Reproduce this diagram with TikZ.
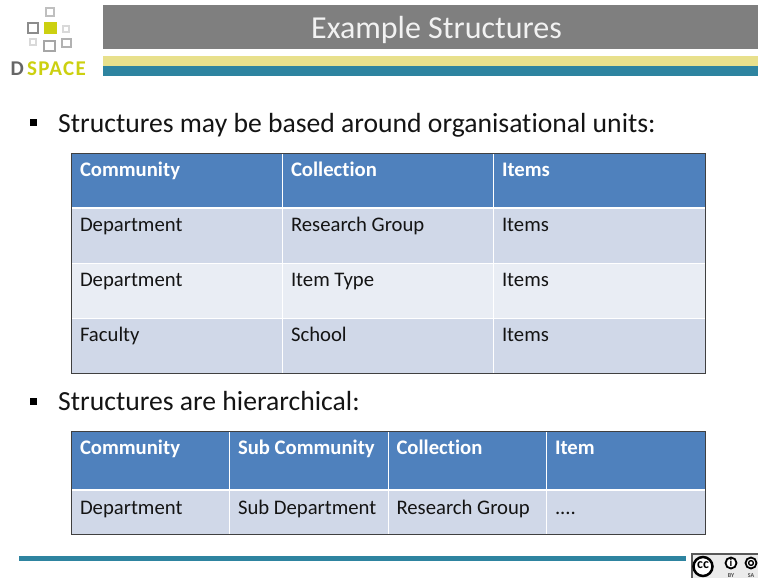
\documentclass[tikz,border=0pt]{standalone}
\usepackage{fontspec}
\setmainfont[Ligatures=NoCommon]{Carlito}
\newfontfamily\logofont[LetterSpace=6]{Carlito}
\definecolor{hdr}{HTML}{4F81BD}
\definecolor{rowa}{HTML}{D0D8E8}
\definecolor{rowb}{HTML}{E9EDF4}
\definecolor{teal}{HTML}{2E84A0}
\definecolor{sand}{HTML}{E8E08C}
\definecolor{lime}{HTML}{CCD010}
\definecolor{titlegrey}{HTML}{7F7F7F}
\tikzset{x=1pt,y=-1pt,
 cell/.style={anchor=base west,inner sep=0pt,outer sep=0pt,font=\fontsize{20.7}{22}\selectfont,text=black!92},
 headcell/.style={cell,font=\fontsize{20.7}{22}\selectfont\bfseries,text=white},
 bullettext/.style={anchor=base west,inner sep=0pt,font=\fontsize{27.65}{30}\selectfont,text=black!92},
 sep/.style={draw=white,line width=1pt},
 sephead/.style={draw=white,line width=2pt},
 frameline/.style={draw=black!75,line width=1pt},
 logobox/.style={draw=#1,line width=1.7pt,fill=white},
 logobox/.default=black!40}
\begin{document}
\begin{tikzpicture}
\useasboundingbox (0,0) rectangle (758,578);
\clip (0,0) rectangle (758,578);
% header
\fill[titlegrey] (103,5) rectangle (758,49);
\fill[sand] (103,56) rectangle (758,66);
\fill[teal] (103,66) rectangle (758,76);
\node[anchor=base,inner sep=0pt,text=white!95!black,font=\fontsize{32}{34}\selectfont] (title) at (436.5,38.8) {Example Structures};
% logo
\draw[logobox=black!25] (45.8,7.8) rectangle (54.2,15.8);
\draw[logobox=black!45] (27.8,22.8) rectangle (38.2,33.2);
\fill[lime] (43.5,22) rectangle (56.5,34);
\draw[logobox=black!15] (62.8,25.8) rectangle (69.2,32.2);
\draw[logobox=black!15] (29.8,38.8) rectangle (36.2,45.2);
\draw[logobox=black!35] (44,40.8) rectangle (55.2,51.2);
\draw[logobox=black!30] (61.8,38.8) rectangle (71.2,47.2);
\node[anchor=base west,inner sep=0pt,text=black!60,font=\fontsize{21}{22}\bfseries\selectfont] (logod) at (10.5,76) {D};
\node[anchor=base west,inner sep=0pt,text=lime,font=\logofont\fontsize{21}{22}\bfseries\selectfont] (logos) at (27,76) {SPACE};
% bullets
\fill[black] (29.5,119) rectangle (36.5,126);
\fill[black] (29.5,398) rectangle (36.5,405);
\node[bullettext] (b1) at (58,132) {Structures may be based around organisational units:};
\node[bullettext] (b2) at (58,410.3) {Structures are hierarchical:};
% table 1
\fill[hdr] (71,153) rectangle (705,207);
\fill[rowa] (71,207) rectangle (705,263);
\fill[rowb] (71,263) rectangle (705,318);
\fill[rowa] (71,318) rectangle (705,373);
\draw[sep] (282,153) -- (282,373);
\draw[sep] (493,153) -- (493,373);
\draw[sephead] (71,207.5) -- (705,207.5);
\draw[sep] (71,263) -- (705,263);
\draw[sep] (71,318) -- (705,318);
\draw[frameline] (71,153.5) rectangle (705,373);
\node[headcell] (a1) at (80,176.5) {Community};
\node[headcell] (a2) at (291,176.5) {Collection};
\node[headcell] (a3) at (502,176.5) {Items};
\node[cell] (b11) at (80,231.5) {Department};
\node[cell] (b12) at (291,231.5) {Research Group};
\node[cell] (b13) at (502,231.5) {Items};
\node[cell] (c11) at (80,286.5) {Department};
\node[cell] (c12) at (291,286.5) {Item Type};
\node[cell] (c13) at (502,286.5) {Items};
\node[cell] (d11) at (80,341.5) {Faculty};
\node[cell] (d12) at (291,341.5) {School};
\node[cell] (d13) at (502,341.5) {Items};
% table 2
\fill[hdr] (71,431) rectangle (705,489);
\fill[rowa] (71,489) rectangle (705,534);
\draw[sep] (229.5,431) -- (229.5,534);
\draw[sep] (388,431) -- (388,534);
\draw[sep] (546.5,431) -- (546.5,534);
\draw[sephead] (71,489.5) -- (705,489.5);
\draw[frameline] (71,431.5) rectangle (705,534);
\node[headcell] (e1) at (80,454.5) {Community};
\node[headcell] (e2) at (238,454.5) {Sub Community};
\node[headcell] (e3) at (396.5,454.5) {Collection};
\node[headcell] (e4) at (555,454.5) {Item};
\node[cell] (f1) at (80,514.5) {Department};
\node[cell] (f2) at (238,514.5) {Sub Department};
\node[cell] (f3) at (396.5,514.5) {Research Group};
\node[cell] (f4) at (555,514.5) {....};
% footer
\fill[teal] (19,556) rectangle (686,560.5);
% licence badge
\fill[black!65] (691,553) rectangle (758,578);
\fill[black!8] (693,555) rectangle (758,578);
\draw[black,fill=white,line width=2.5pt] (703,566.5) circle (9.5);
\node[inner sep=0pt,font=\fontsize{14}{14}\bfseries\selectfont] (cc) at (703,565.5) {cc};
\draw[black,fill=white,line width=1.8pt] (731,563) circle (5.5);
\node[inner sep=0pt,font=\fontsize{11}{11}\bfseries\selectfont] (by) at (731,563) {i};
\draw[black,fill=white,line width=1.8pt] (751,563) circle (5.5);
\draw[black,line width=1.4pt] (751,563) circle (2.4);
\node[anchor=base,inner sep=0pt,text=black!70,font=\fontsize{6}{6}\bfseries\selectfont] (bylabel) at (731,577.5) {BY};
\node[anchor=base,inner sep=0pt,text=black!70,font=\fontsize{6}{6}\bfseries\selectfont] (salabel) at (751,577.5) {SA};
\end{tikzpicture}
\end{document}
